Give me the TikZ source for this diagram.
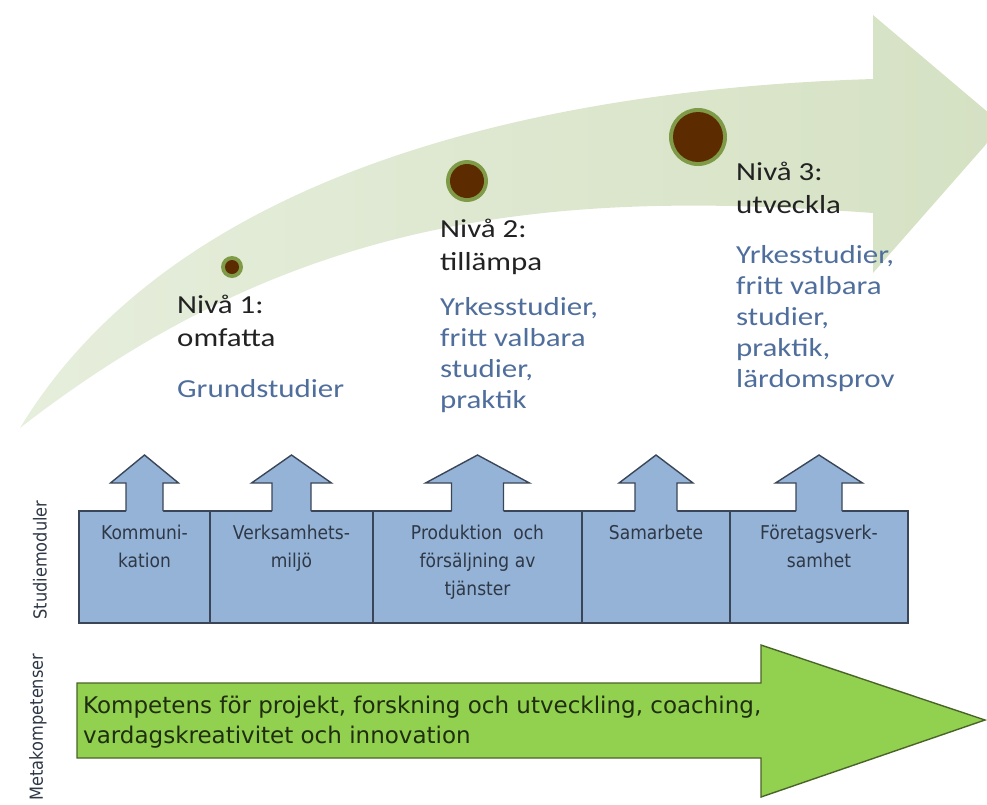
\documentclass[tikz,border=0pt]{standalone}
\usepackage{fontspec}
\newfontfamily\levelfont[FakeStretch=1.19]{Carlito}
\newfontfamily\modfont[FakeStretch=0.9]{DejaVu Sans}
\newfontfamily\metafont{DejaVu Sans}
\definecolor{bandlight}{HTML}{E6EEDC}
\definecolor{banddark}{HTML}{D5E1C3}
\definecolor{dotbrown}{HTML}{5C2C00}
\definecolor{dotring}{HTML}{7F9B47}
\definecolor{leveltext}{HTML}{222222}
\definecolor{studytext}{HTML}{4F6E9C}
\definecolor{modfill}{HTML}{95B3D7}
\definecolor{modline}{HTML}{3A4658}
\definecolor{modtext}{HTML}{2E3846}
\definecolor{metafill}{HTML}{92D050}
\definecolor{metaline}{HTML}{4A6428}
\definecolor{metatext}{HTML}{1E2E0E}
\tikzset{
  leveltitle/.style={anchor=north west, inner sep=0pt, align=left, text=leveltext, font=\levelfont\fontsize{26}{33}\selectfont},
  levelstudy/.style={anchor=north west, inner sep=0pt, align=left, text=studytext, font=\levelfont\fontsize{26}{31}\selectfont},
  modbox/.style={draw=modline, fill=modfill, line width=1.4pt, anchor=north west, minimum height=112pt, inner sep=0pt, outer sep=0pt},
  modlabel/.style={anchor=north, inner sep=0pt, align=center, text=modtext, font=\modfont\fontsize{19}{28}\selectfont},
  sidelabel/.style={rotate=90, inner sep=0pt, text=modtext, font=\modfont\fontsize{18}{20}\selectfont},
}
\begin{document}
\begin{tikzpicture}[x=1pt, y=-1pt]
\useasboundingbox (0, 0) rectangle (987, 804);
\clip (0, 0) rectangle (987, 804);
% curved arrow
\shade[left color=bandlight, right color=banddark] (20, 428) .. controls (170, 180) and (520, 90) .. (873, 79) -- (873, 15) -- (1003, 125) -- (873, 273) -- (873, 213) .. controls (560, 190) and (300, 210) .. (20, 428) -- cycle;
\foreach \px/\py/\ro/\ri in {232/267/11/7, 467/181/21/17, 698/137/29/25}{
  \fill[dotring] (\px, \py) circle (\ro pt);
  \fill[dotbrown] (\px, \py) circle (\ri pt);
}
%Text
\draw (177, 295) node [leveltitle] (niva1) {Nivå 1:\\omfatta};
\draw (177, 379) node [levelstudy] (studie1) {Grundstudier};
\draw (440, 219) node [leveltitle] (niva2) {Nivå 2:\\tillämpa};
\draw (440, 297) node [levelstudy] (studie2) {Yrkesstudier,\\fritt valbara\\studier,\\praktik};
\draw (736, 162) node [leveltitle] (niva3) {Nivå 3:\\utveckla};
\draw (736, 245) node [levelstudy] (studie3) {Yrkesstudier,\\fritt valbara\\studier,\\praktik,\\lärdomsprov};
% study modules
\node [modbox, minimum width=131pt] (kom) at (79, 511) {};
\node [modbox, minimum width=163pt] (verk) at (210, 511) {};
\node [modbox, minimum width=209pt] (prod) at (373, 511) {};
\node [modbox, minimum width=148pt] (sam) at (582, 511) {};
\node [modbox, minimum width=178pt] (fore) at (730, 511) {};
\foreach \cx/\hw/\sw in {144.5/34/18.5, 291.5/40/19.5, 477.5/52/26, 656/37/21, 819/43.5/23}{
  \fill[modfill] (\cx-\sw, 512.5) -- (\cx-\sw, 483) -- (\cx-\hw, 483) -- (\cx, 455) -- (\cx+\hw, 483) -- (\cx+\sw, 483) -- (\cx+\sw, 512.5) -- cycle;
  \draw[modline, line width=1.4pt] (\cx-\sw, 511) -- (\cx-\sw, 483) -- (\cx-\hw, 483) -- (\cx, 455) -- (\cx+\hw, 483) -- (\cx+\sw, 483) -- (\cx+\sw, 511);
}
\node [modlabel] (komtxt) at ([yshift=-13.5pt]kom.north) {Kommuni-\\kation};
\node [modlabel] (verktxt) at ([yshift=-13.5pt]verk.north) {Verksamhets-\\miljö};
\node [modlabel] (prodtxt) at ([yshift=-13.5pt]prod.north) {Produktion\ \ och\\försäljning av\\tjänster};
\node [modlabel] (samtxt) at ([yshift=-13.5pt]sam.north) {Samarbete};
\node [modlabel] (foretxt) at ([yshift=-13.5pt]fore.north) {Företagsverk-\\samhet};
% metacompetences
\draw[fill=metafill, draw=metaline, line width=1.4pt] (77, 683) -- (761, 683) -- (761, 645) -- (985, 720) -- (761, 797) -- (761, 758) -- (77, 758) -- cycle;
\draw (83, 695.5) node [anchor=north west, inner sep=0pt, align=left, text=metatext, font=\metafont\fontsize{23}{30}\selectfont] (metatxt) {Kompetens för projekt, forskning och utveckling, coaching,\\vardagskreativitet och innovation};
\node [sidelabel] (studlab) at (40, 560) {Studiemoduler};
\node [sidelabel] (metalab) at (38, 727) {Metakompetenser};
\end{tikzpicture}
\end{document}
